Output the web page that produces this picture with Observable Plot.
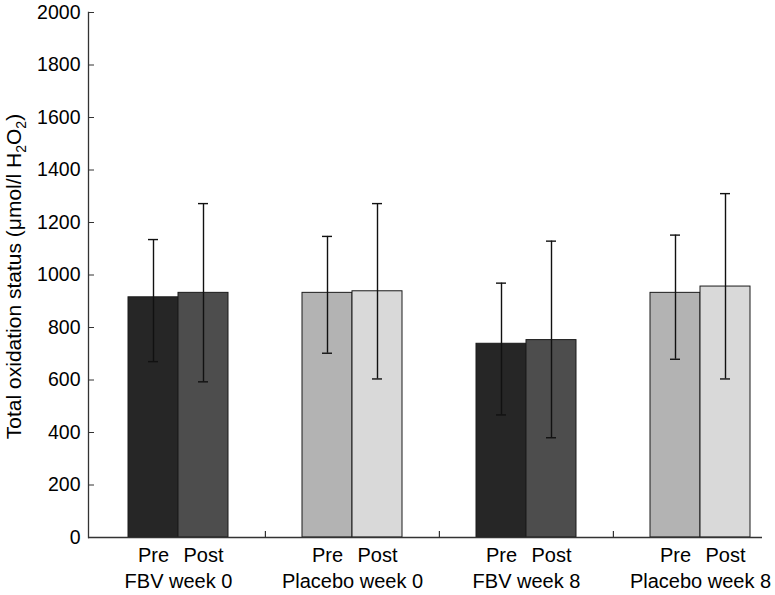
<!DOCTYPE html>
<html><head><meta charset="utf-8">
<script src="https://cdn.jsdelivr.net/npm/d3@7"></script>
<script src="https://cdn.jsdelivr.net/npm/@observablehq/plot@0.6"></script>
<style>body{margin:0;background:#fff;font-family:"Liberation Sans",Arial,sans-serif}</style>
</head><body><div id="chart"></div>
<script>
const groups = ["FBV week 0", "Placebo week 0", "FBV week 8", "Placebo week 8"];
const treatments = ["FBV", "Placebo", "FBV", "Placebo"];
const phases = ["Pre", "Post"];
const preMean  = [915, 932, 738, 932];
const preUpper = [1135, 1147, 969, 1152];
const preLower = [670, 702, 467, 679];
const postMean  = [932, 938, 752, 956];
const postUpper = [1272, 1272, 1129, 1310];
const postLower = [593, 604, 380, 604];
const yTicks = [0, 200, 400, 600, 800, 1000, 1200, 1400, 1600, 1800, 2000];
const yLabel = "Total oxidation status (μmol/l H2O2)";
const fillKeys = ["FBV Pre", "FBV Post", "Placebo Pre", "Placebo Post"];
const fillColors = ["#262626", "#4d4d4d", "#b3b3b3", "#d9d9d9"];

const pre = groups.map((g, i) => ({group: g, phase: "Pre", key: treatments[i] + " Pre", mean: preMean[i], upper: preUpper[i], lower: preLower[i]}));
const post = groups.map((g, i) => ({group: g, phase: "Post", key: treatments[i] + " Post", mean: postMean[i], upper: postUpper[i], lower: postLower[i]}));

const stroke = "#1a1a1a";
const chart = Plot.plot({
  width: 775,
  height: 595,
  marginLeft: 88,
  marginRight: 13,
  marginTop: 12,
  marginBottom: 58,
  style: {fontFamily: '"Liberation Sans", Arial, sans-serif', fontSize: "20px", color: "#000", background: "#fff"},
  x: {domain: groups, range: [90, 787], padding: 0, axis: null},
  y: {domain: [0, 2000], label: null},
  color: {domain: fillKeys, range: fillColors},
  marks: [
    Plot.barY(pre, {x: "group", y: "mean", fill: "key", stroke, strokeWidth: 1, insetLeft: 37, insetRight: 87}),
    Plot.barY(post, {x: "group", y: "mean", fill: "key", stroke, strokeWidth: 1, insetLeft: 87, insetRight: 37}),
    Plot.ruleX(pre, {x: "group", y1: "lower", y2: "upper", dx: -25, stroke: "#111", strokeWidth: 1.4}),
    Plot.ruleX(post, {x: "group", y1: "lower", y2: "upper", dx: 25, stroke: "#111", strokeWidth: 1.4}),
    Plot.tickY(pre, {x: "group", y: "upper", insetLeft: 57, insetRight: 107, stroke: "#111", strokeWidth: 1.4}),
    Plot.tickY(pre, {x: "group", y: "lower", insetLeft: 57, insetRight: 107, stroke: "#111", strokeWidth: 1.4}),
    Plot.tickY(post, {x: "group", y: "upper", insetLeft: 107, insetRight: 57, stroke: "#111", strokeWidth: 1.4}),
    Plot.tickY(post, {x: "group", y: "lower", insetLeft: 107, insetRight: 57, stroke: "#111", strokeWidth: 1.4}),
    Plot.ruleX(groups.slice(1), {x: d => d, dx: -87.1, insetTop: 519, stroke: "#333", strokeWidth: 1.2}),
    Plot.ruleY([0], {stroke: "#333", strokeWidth: 1.3}),
    Plot.frame({anchor: "left", stroke: "#333", strokeWidth: 1.3}),
    Plot.axisY({ticks: yTicks, tickSize: -6, tickPadding: 14, tickFormat: d => String(d), fontSize: 19.5, label: null, stroke: "#333"}),
    Plot.text(pre, {x: "group", text: "phase", frameAnchor: "bottom", lineAnchor: "bottom", dx: -25, dy: 24, fontSize: 20}),
    Plot.text(post, {x: "group", text: "phase", frameAnchor: "bottom", lineAnchor: "bottom", dx: 25, dy: 24, fontSize: 20}),
    Plot.text(groups, {x: d => d, text: d => d, frameAnchor: "bottom", lineAnchor: "bottom", dy: 50, fontSize: 20}),
    Plot.text([yLabel], {text: d => d, frameAnchor: "left", rotate: -90, dx: -74, dy: 1.5, lineAnchor: "middle", textAnchor: "middle", fontSize: 21})
  ]
});
document.getElementById("chart").appendChild(chart);

// subscripts for H2O2 in the y-axis label
d3.select(chart).selectAll("text").filter(function() { return this.textContent === yLabel; }).each(function() {
  const t = d3.select(this);
  t.text(null);
  t.append("tspan").text("Total oxidation status (μmol/l H");
  t.append("tspan").attr("dy", 5).attr("font-size", 14).text("2");
  t.append("tspan").attr("dy", -5).text("O");
  t.append("tspan").attr("dy", 5).attr("font-size", 14).text("2");
  t.append("tspan").attr("dy", -5).text(")");
});
</script>
</body></html>
